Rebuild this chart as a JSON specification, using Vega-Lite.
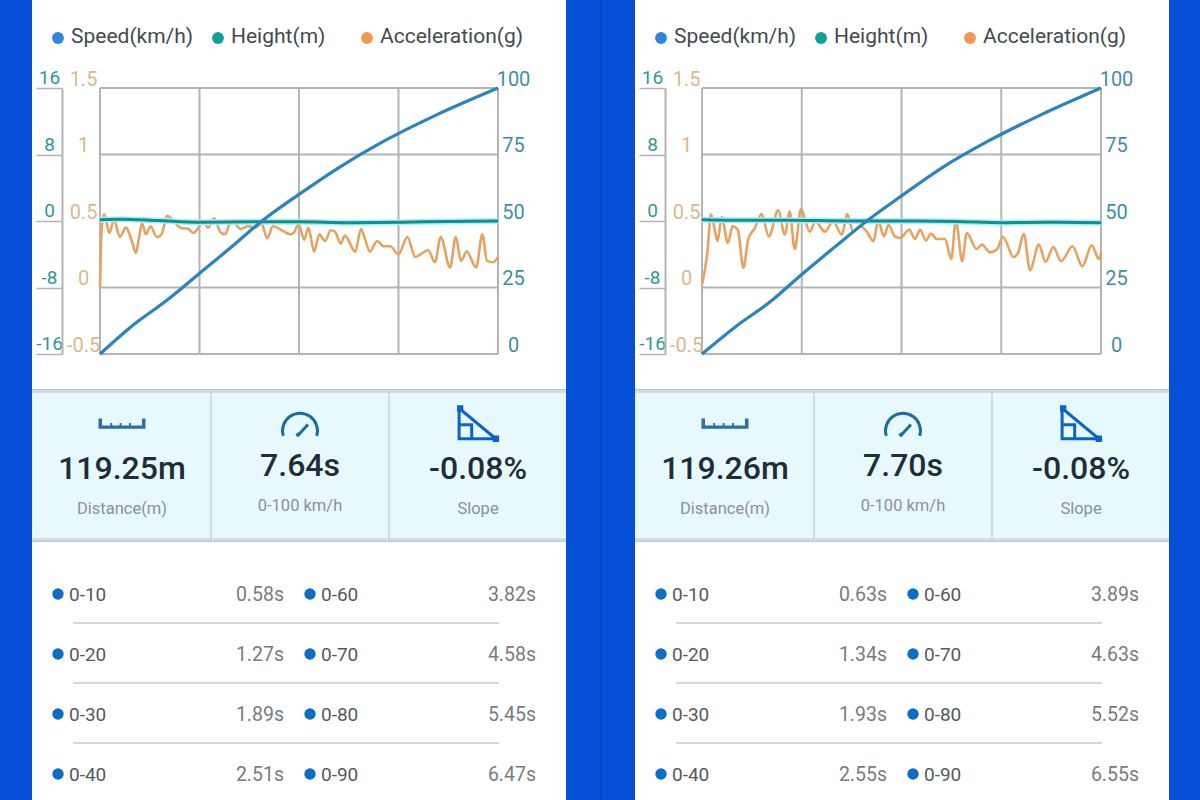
{"$schema":"https://vega.github.io/schema/vega-lite/v6.json","background":"#0650d8","padding":{"left":30,"right":32,"top":-1,"bottom":0},"autosize":{"type":"pad"},"config":{"font":"Roboto","view":{"stroke":null}},"datasets":{"legend":[{"series":"Speed(km/h)"},{"series":"Height(m)"},{"series":"Acceleration(g)"}],"speedTicks":[{"speed":0},{"speed":25},{"speed":50},{"speed":75},{"speed":100}],"timeA":[{"t":0},{"t":1.91},{"t":3.82},{"t":5.73},{"t":7.64}],"timeB":[{"t":0},{"t":1.925},{"t":3.85},{"t":5.775},{"t":7.7}],"speedA":[{"t":0,"v":0},{"t":0.58,"v":10},{"t":1.27,"v":20},{"t":1.89,"v":30},{"t":2.51,"v":40},{"t":3.11,"v":50},{"t":3.82,"v":60},{"t":4.58,"v":70},{"t":5.45,"v":80},{"t":6.47,"v":90},{"t":7.64,"v":100}],"speedB":[{"t":0,"v":0},{"t":0.63,"v":10},{"t":1.34,"v":20},{"t":1.93,"v":30},{"t":2.55,"v":40},{"t":3.18,"v":50},{"t":3.89,"v":60},{"t":4.63,"v":70},{"t":5.52,"v":80},{"t":6.55,"v":90},{"t":7.7,"v":100}],"heightA":[{"t":0,"h":0.15},{"t":0.4,"h":0.2},{"t":1.1,"h":0.05},{"t":1.9,"h":-0.15},{"t":3.0,"h":-0.1},{"t":3.8,"h":-0.1},{"t":4.8,"h":-0.2},{"t":5.8,"h":-0.15},{"t":6.7,"h":-0.05},{"t":7.64,"h":0}],"heightB":[{"t":0,"h":0.15},{"t":0.6,"h":0.1},{"t":1.6,"h":0.1},{"t":2.9,"h":0},{"t":3.9,"h":0},{"t":4.9,"h":-0.05},{"t":5.8,"h":-0.2},{"t":6.7,"h":-0.15},{"t":7.7,"h":-0.2}],"accelA":[{"t":0,"a":0},{"t":0.02,"a":0.34},{"t":0.05,"a":0.51},{"t":0.08,"a":0.55},{"t":0.13,"a":0.48},{"t":0.18,"a":0.41},{"t":0.27,"a":0.51},{"t":0.38,"a":0.38},{"t":0.5,"a":0.45},{"t":0.61,"a":0.35},{"t":0.69,"a":0.26},{"t":0.75,"a":0.38},{"t":0.81,"a":0.48},{"t":0.88,"a":0.4},{"t":0.97,"a":0.46},{"t":1.09,"a":0.38},{"t":1.18,"a":0.4},{"t":1.29,"a":0.54},{"t":1.41,"a":0.5},{"t":1.54,"a":0.45},{"t":1.7,"a":0.44},{"t":1.79,"a":0.41},{"t":1.89,"a":0.45},{"t":1.97,"a":0.5},{"t":2.08,"a":0.45},{"t":2.19,"a":0.52},{"t":2.32,"a":0.41},{"t":2.4,"a":0.4},{"t":2.5,"a":0.48},{"t":2.59,"a":0.48},{"t":2.69,"a":0.44},{"t":2.85,"a":0.46},{"t":2.98,"a":0.45},{"t":3.1,"a":0.48},{"t":3.21,"a":0.37},{"t":3.32,"a":0.46},{"t":3.49,"a":0.43},{"t":3.65,"a":0.4},{"t":3.72,"a":0.41},{"t":3.81,"a":0.48},{"t":3.92,"a":0.36},{"t":4.0,"a":0.45},{"t":4.11,"a":0.27},{"t":4.21,"a":0.4},{"t":4.32,"a":0.35},{"t":4.43,"a":0.43},{"t":4.51,"a":0.42},{"t":4.62,"a":0.33},{"t":4.7,"a":0.39},{"t":4.9,"a":0.27},{"t":5.01,"a":0.44},{"t":5.09,"a":0.36},{"t":5.18,"a":0.27},{"t":5.32,"a":0.35},{"t":5.44,"a":0.31},{"t":5.57,"a":0.31},{"t":5.73,"a":0.25},{"t":5.9,"a":0.38},{"t":6.05,"a":0.23},{"t":6.3,"a":0.28},{"t":6.43,"a":0.19},{"t":6.54,"a":0.38},{"t":6.72,"a":0.15},{"t":6.83,"a":0.38},{"t":6.93,"a":0.2},{"t":7.04,"a":0.27},{"t":7.22,"a":0.15},{"t":7.34,"a":0.4},{"t":7.43,"a":0.2},{"t":7.55,"a":0.19},{"t":7.64,"a":0.23}],"accelB":[{"t":0,"a":0.02},{"t":0.11,"a":0.285},{"t":0.17,"a":0.55},{"t":0.22,"a":0.485},{"t":0.3,"a":0.35},{"t":0.38,"a":0.53},{"t":0.5,"a":0.335},{"t":0.59,"a":0.46},{"t":0.69,"a":0.435},{"t":0.8,"a":0.147},{"t":0.89,"a":0.36},{"t":1.02,"a":0.447},{"t":1.15,"a":0.552},{"t":1.29,"a":0.384},{"t":1.47,"a":0.58},{"t":1.6,"a":0.397},{"t":1.69,"a":0.572},{"t":1.79,"a":0.29},{"t":1.91,"a":0.59},{"t":2.08,"a":0.42},{"t":2.19,"a":0.497},{"t":2.37,"a":0.42},{"t":2.53,"a":0.497},{"t":2.7,"a":0.397},{"t":2.8,"a":0.552},{"t":2.92,"a":0.42},{"t":3.05,"a":0.46},{"t":3.18,"a":0.42},{"t":3.31,"a":0.347},{"t":3.4,"a":0.504},{"t":3.51,"a":0.384},{"t":3.6,"a":0.472},{"t":3.72,"a":0.384},{"t":3.82,"a":0.372},{"t":4.0,"a":0.434},{"t":4.11,"a":0.365},{"t":4.21,"a":0.434},{"t":4.32,"a":0.354},{"t":4.42,"a":0.404},{"t":4.53,"a":0.365},{"t":4.69,"a":0.365},{"t":4.81,"a":0.215},{"t":4.9,"a":0.51},{"t":5.02,"a":0.197},{"t":5.11,"a":0.41},{"t":5.3,"a":0.29},{"t":5.4,"a":0.322},{"t":5.56,"a":0.264},{"t":5.69,"a":0.285},{"t":5.81,"a":0.38},{"t":6.01,"a":0.23},{"t":6.1,"a":0.26},{"t":6.21,"a":0.404},{"t":6.33,"a":0.13},{"t":6.5,"a":0.322},{"t":6.63,"a":0.193},{"t":6.78,"a":0.305},{"t":6.93,"a":0.197},{"t":7.15,"a":0.31},{"t":7.34,"a":0.16},{"t":7.52,"a":0.317},{"t":7.66,"a":0.215},{"t":7.7,"a":0.26}],"statsA":[{"cell":"Distance(m)","value":"119.25m"},{"cell":"0-100 km/h","value":"7.64s"},{"cell":"Slope","value":"-0.08%"}],"statsB":[{"cell":"Distance(m)","value":"119.26m"},{"cell":"0-100 km/h","value":"7.70s"},{"cell":"Slope","value":"-0.08%"}],"tableA":[{"row":"r1","col":"a","range":"0-10","time":"0.58s"},{"row":"r2","col":"a","range":"0-20","time":"1.27s"},{"row":"r3","col":"a","range":"0-30","time":"1.89s"},{"row":"r4","col":"a","range":"0-40","time":"2.51s"},{"row":"r1","col":"b","range":"0-60","time":"3.82s"},{"row":"r2","col":"b","range":"0-70","time":"4.58s"},{"row":"r3","col":"b","range":"0-80","time":"5.45s"},{"row":"r4","col":"b","range":"0-90","time":"6.47s"}],"tableB":[{"row":"r1","col":"a","range":"0-10","time":"0.63s"},{"row":"r2","col":"a","range":"0-20","time":"1.34s"},{"row":"r3","col":"a","range":"0-30","time":"1.93s"},{"row":"r4","col":"a","range":"0-40","time":"2.55s"},{"row":"r1","col":"b","range":"0-60","time":"3.89s"},{"row":"r2","col":"b","range":"0-70","time":"4.63s"},{"row":"r3","col":"b","range":"0-80","time":"5.52s"},{"row":"r4","col":"b","range":"0-90","time":"6.55s"}],"seps":[{"row":"s1"},{"row":"s2"},{"row":"s3"}]},"spacing":31.5,"hconcat":[{"spacing":0,"vconcat":[{"width":534,"height":389,"view":{"fill":"#ffffff"},"resolve":{"scale":{"x":"independent","y":"independent"}},"layer":[{"data":{"name":"speedTicks"},"mark":{"type":"rule","color":"#b4b4b4","strokeWidth":2},"encoding":{"y":{"field":"speed","type":"quantitative","scale":{"domain":[0,100],"range":[354,88]},"axis":null},"x":{"datum":0,"type":"quantitative","scale":{"domain":[0,7.64],"range":[68,466]},"axis":null},"x2":{"datum":7.64}}},{"data":{"name":"timeA"},"mark":{"type":"rule","color":"#b4b4b4","strokeWidth":2},"encoding":{"x":{"field":"t","type":"quantitative","scale":{"domain":[0,7.64],"range":[68,466]},"axis":null},"y":{"datum":0,"type":"quantitative","scale":{"domain":[0,100],"range":[354,88]},"axis":null},"y2":{"datum":100}}},{"data":{"name":"accelA"},"mark":{"type":"line","color":"#e5a35f","strokeWidth":2.6,"interpolate":"monotone"},"encoding":{"x":{"field":"t","type":"quantitative","scale":{"domain":[0,7.64],"range":[68,466]},"axis":null},"y":{"field":"a","type":"quantitative","scale":{"domain":[-0.5,1.5],"range":[354,88]},"axis":{"orient":"left","title":null,"values":[-0.5,0,0.5,1,1.5],"labelExpr":"''+datum.value","offset":-68,"domain":false,"ticks":false,"grid":false,"labelColor":"#d9b98c","labelFontSize":20,"labelPadding":17,"labelAlign":"center","labelBaseline":"middle","labelOffset":-9,"labelFlush":false}}}},{"data":{"name":"heightA"},"mark":{"type":"line","color":"#a8f0f4","strokeWidth":6,"interpolate":"monotone"},"encoding":{"x":{"field":"t","type":"quantitative","scale":{"domain":[0,7.64],"range":[68,466]},"axis":null},"y":{"field":"h","type":"quantitative","scale":{"domain":[-16,16],"range":[354,88]},"axis":null}}},{"data":{"name":"heightA"},"mark":{"type":"line","color":"#0f8f94","strokeWidth":3,"interpolate":"monotone"},"encoding":{"x":{"field":"t","type":"quantitative","scale":{"domain":[0,7.64],"range":[68,466]},"axis":null},"y":{"field":"h","type":"quantitative","scale":{"domain":[-16,16],"range":[354,88]},"axis":{"orient":"left","title":null,"values":[-16,-8,0,8,16],"labelExpr":"''+datum.value","offset":-30,"domain":true,"domainColor":"#b4b4b4","domainWidth":2,"ticks":true,"tickColor":"#b4b4b4","tickWidth":1.5,"tickSize":26,"grid":false,"labelColor":"#2b9a98","labelFontSize":19,"labelPadding":-13,"labelAlign":"center","labelBaseline":"middle","labelOffset":-10.5,"labelFlush":false}}}},{"data":{"name":"speedA"},"mark":{"type":"line","color":"#2a84bd","strokeWidth":3.2,"interpolate":"monotone"},"encoding":{"x":{"field":"t","type":"quantitative","scale":{"domain":[0,7.64],"range":[68,466]},"axis":null},"y":{"field":"v","type":"quantitative","scale":{"domain":[0,100],"range":[354,88]},"axis":{"orient":"right","title":null,"values":[0,25,50,75,100],"offset":-68,"domain":false,"ticks":false,"grid":false,"labelColor":"#3d8fa3","labelFontSize":20,"labelPadding":15,"labelAlign":"center","labelBaseline":"middle","labelOffset":-9,"labelFlush":false}}}},{"data":{"name":"legend"},"mark":{"type":"point","filled":true,"opacity":1,"size":140,"xOffset":{"expr":"datum.series==='Height(m)'?5.5:0"}},"encoding":{"x":{"field":"series","type":"nominal","sort":null,"scale":{"type":"point","padding":0,"domain":["Speed(km/h)","Height(m)","Acceleration(g)"],"range":[26,335]},"axis":null},"y":{"field":"series","type":"nominal","scale":{"type":"point","padding":0,"domain":["Speed(km/h)","Height(m)","Acceleration(g)"],"range":[38,38]},"axis":null},"color":{"field":"series","type":"nominal","legend":null,"scale":{"domain":["Speed(km/h)","Height(m)","Acceleration(g)"],"range":["#2e86d8","#0f9f9b","#f2994f"]}}}},{"data":{"name":"legend"},"mark":{"type":"text","align":"left","baseline":"middle","fontSize":21,"color":"#454a4e","dx":{"expr":"13+(datum.series==='Height(m)'?5.5:0)"}},"encoding":{"x":{"field":"series","type":"nominal","scale":{"type":"point","padding":0,"domain":["Speed(km/h)","Height(m)","Acceleration(g)"],"range":[26,335]},"axis":null},"y":{"field":"series","type":"nominal","scale":{"type":"point","padding":0,"domain":["Speed(km/h)","Height(m)","Acceleration(g)"],"range":[37,37]},"axis":null},"text":{"field":"series"}}}]},{"width":534,"height":151,"view":{"fill":"#e8f9fd"},"data":{"name":"statsA"},"layer":[{"transform":[{"filter":"datum.cell!=='Slope'"}],"mark":{"type":"rule","color":"#d0dde0","strokeWidth":2},"encoding":{"x":{"field":"cell","type":"nominal","bandPosition":1,"scale":{"type":"band","domain":["Distance(m)","0-100 km/h","Slope"],"range":[1,535],"paddingInner":0,"paddingOuter":0},"axis":null}}},{"mark":{"type":"rule","color":"#cfdcdf","strokeWidth":3},"encoding":{"y":{"datum":"top","type":"nominal","scale":{"type":"point","domain":["top","icon","value","caption","bottom"],"range":[1,150],"padding":0},"axis":null}}},{"mark":{"type":"rule","color":"#cfdcdf","strokeWidth":3},"encoding":{"y":{"datum":"bottom","type":"nominal","scale":{"type":"point","domain":["top","icon","value","caption","bottom"],"range":[1,150],"padding":0},"axis":null}}},{"transform":[{"filter":"datum.cell==='Distance(m)'"}],"mark":{"type":"point","filled":true,"opacity":1,"strokeWidth":0,"color":"#2f6ea5","size":2209,"shape":"M-1 -.42 H-.85 V-.12 H-.5 V-.22 H-.42 V-.12 H-.1 V-.22 H-.02 V-.12 H.3 V-.22 H.38 V-.12 H.85 V-.42 H1 V.02 H-1 Z"},"encoding":{"x":{"field":"cell","type":"nominal","scale":{"type":"band","domain":["Distance(m)","0-100 km/h","Slope"],"range":[1,535],"paddingInner":0,"paddingOuter":0},"axis":null},"y":{"datum":"icon","type":"nominal","scale":{"type":"point","domain":["top","icon","value","caption","bottom"],"range":[1,150],"padding":0},"axis":null}}},{"transform":[{"filter":"datum.cell==='0-100 km/h'"}],"mark":{"type":"point","filled":false,"opacity":1,"strokeWidth":3,"color":"#1b6f9c","size":1444,"shape":"M-.88 .4 A.92 .92 0 1 1 .88 .4 M-.15 .42 L.42 -.2 M-.2 .38 L0 .25"},"encoding":{"x":{"field":"cell","type":"nominal","scale":{"type":"band","domain":["Distance(m)","0-100 km/h","Slope"],"range":[1,535],"paddingInner":0,"paddingOuter":0},"axis":null},"y":{"datum":"icon","type":"nominal","scale":{"type":"point","domain":["top","icon","value","caption","bottom"],"range":[1,150],"padding":0},"axis":null}}},{"transform":[{"filter":"datum.cell==='Slope'"}],"mark":{"type":"point","filled":false,"opacity":1,"strokeWidth":3,"color":"#0a63c9","size":1764,"shape":"M-.9 -.95 L-.9 .5 L.85 .5 Z M-.9 -.17 H-.3 V.5"},"encoding":{"x":{"field":"cell","type":"nominal","scale":{"type":"band","domain":["Distance(m)","0-100 km/h","Slope"],"range":[1,535],"paddingInner":0,"paddingOuter":0},"axis":null},"y":{"datum":"icon","type":"nominal","scale":{"type":"point","domain":["top","icon","value","caption","bottom"],"range":[1,150],"padding":0},"axis":null}}},{"transform":[{"filter":"datum.cell==='Slope'"}],"mark":{"type":"point","filled":true,"opacity":1,"strokeWidth":0,"color":"#0a63c9","size":1764,"shape":"M-1 -1.1 H-.7 V-.8 H-1 Z M.7 .35 H1 V.65 H.7 Z"},"encoding":{"x":{"field":"cell","type":"nominal","scale":{"type":"band","domain":["Distance(m)","0-100 km/h","Slope"],"range":[1,535],"paddingInner":0,"paddingOuter":0},"axis":null},"y":{"datum":"icon","type":"nominal","scale":{"type":"point","domain":["top","icon","value","caption","bottom"],"range":[1,150],"padding":0},"axis":null}}},{"mark":{"type":"text","fontSize":32,"fontWeight":500,"color":"#1f2d38","baseline":"middle","dy":{"expr":"datum.cell==='0-100 km/h'?0.5:3.5"}},"encoding":{"x":{"field":"cell","type":"nominal","scale":{"type":"band","domain":["Distance(m)","0-100 km/h","Slope"],"range":[1,535],"paddingInner":0,"paddingOuter":0},"axis":null},"y":{"datum":"value","type":"nominal","scale":{"type":"point","domain":["top","icon","value","caption","bottom"],"range":[1,150],"padding":0},"axis":null},"text":{"field":"value"}}},{"mark":{"type":"text","fontSize":16.5,"color":"#8b9194","baseline":"middle","dy":{"expr":"datum.cell==='0-100 km/h'?3:6"}},"encoding":{"x":{"field":"cell","type":"nominal","scale":{"type":"band","domain":["Distance(m)","0-100 km/h","Slope"],"range":[1,535],"paddingInner":0,"paddingOuter":0},"axis":null},"y":{"datum":"caption","type":"nominal","scale":{"type":"point","domain":["top","icon","value","caption","bottom"],"range":[1,150],"padding":0},"axis":null},"text":{"field":"cell"}}}]},{"width":534,"height":260,"view":{"fill":"#ffffff"},"resolve":{"scale":{"x":"independent"}},"layer":[{"data":{"name":"seps"},"mark":{"type":"rule","color":"#c9c9c9","strokeWidth":1.5},"encoding":{"y":{"field":"row","type":"nominal","scale":{"type":"point","padding":0,"domain":["r1","s1","r2","s2","r3","s3","r4"],"range":[51,231]},"axis":null},"x":{"datum":0,"type":"quantitative","scale":{"domain":[0,1],"range":[41,467]},"axis":null},"x2":{"datum":1}}},{"data":{"name":"tableA"},"mark":{"type":"point","filled":true,"opacity":1,"size":130,"color":"#0a6ec6","yOffset":1},"encoding":{"x":{"field":"col","type":"nominal","scale":{"type":"point","padding":0,"domain":["a","b"],"range":[26,278]},"axis":null},"y":{"field":"row","type":"nominal","scale":{"type":"point","padding":0,"domain":["r1","s1","r2","s2","r3","s3","r4"],"range":[51,231]},"axis":null}}},{"data":{"name":"tableA"},"mark":{"type":"text","align":"left","baseline":"middle","fontSize":19,"color":"#555a5e","dx":11,"dy":1.5},"encoding":{"x":{"field":"col","type":"nominal","scale":{"type":"point","padding":0,"domain":["a","b"],"range":[26,278]},"axis":null},"y":{"field":"row","type":"nominal","scale":{"type":"point","padding":0,"domain":["r1","s1","r2","s2","r3","s3","r4"],"range":[51,231]},"axis":null},"text":{"field":"range"}}},{"data":{"name":"tableA"},"mark":{"type":"text","align":"right","baseline":"middle","fontSize":19.5,"color":"#777c80","dx":226,"dy":1.5},"encoding":{"x":{"field":"col","type":"nominal","scale":{"type":"point","padding":0,"domain":["a","b"],"range":[26,278]},"axis":null},"y":{"field":"row","type":"nominal","scale":{"type":"point","padding":0,"domain":["r1","s1","r2","s2","r3","s3","r4"],"range":[51,231]},"axis":null},"text":{"field":"time"}}}]}]},{"width":1,"height":800,"view":{"fill":"#0844bb"},"data":{"name":"seps"},"mark":{"type":"rule","color":"#0844bb","strokeWidth":1},"encoding":{"x":{"datum":0,"type":"quantitative","scale":{"domain":[0,1]},"axis":null}}},{"spacing":0,"vconcat":[{"width":534,"height":389,"view":{"fill":"#ffffff"},"resolve":{"scale":{"x":"independent","y":"independent"}},"layer":[{"data":{"name":"speedTicks"},"mark":{"type":"rule","color":"#b4b4b4","strokeWidth":2},"encoding":{"y":{"field":"speed","type":"quantitative","scale":{"domain":[0,100],"range":[354,88]},"axis":null},"x":{"datum":0,"type":"quantitative","scale":{"domain":[0,7.7],"range":[67,466]},"axis":null},"x2":{"datum":7.7}}},{"data":{"name":"timeB"},"mark":{"type":"rule","color":"#b4b4b4","strokeWidth":2},"encoding":{"x":{"field":"t","type":"quantitative","scale":{"domain":[0,7.7],"range":[67,466]},"axis":null},"y":{"datum":0,"type":"quantitative","scale":{"domain":[0,100],"range":[354,88]},"axis":null},"y2":{"datum":100}}},{"data":{"name":"accelB"},"mark":{"type":"line","color":"#e5a35f","strokeWidth":2.6,"interpolate":"monotone"},"encoding":{"x":{"field":"t","type":"quantitative","scale":{"domain":[0,7.7],"range":[67,466]},"axis":null},"y":{"field":"a","type":"quantitative","scale":{"domain":[-0.5,1.5],"range":[354,88]},"axis":{"orient":"left","title":null,"values":[-0.5,0,0.5,1,1.5],"labelExpr":"''+datum.value","offset":-68,"domain":false,"ticks":false,"grid":false,"labelColor":"#d9b98c","labelFontSize":20,"labelPadding":17,"labelAlign":"center","labelBaseline":"middle","labelOffset":-9,"labelFlush":false}}}},{"data":{"name":"heightB"},"mark":{"type":"line","color":"#a8f0f4","strokeWidth":6,"interpolate":"monotone"},"encoding":{"x":{"field":"t","type":"quantitative","scale":{"domain":[0,7.7],"range":[67,466]},"axis":null},"y":{"field":"h","type":"quantitative","scale":{"domain":[-16,16],"range":[354,88]},"axis":null}}},{"data":{"name":"heightB"},"mark":{"type":"line","color":"#0f8f94","strokeWidth":3,"interpolate":"monotone"},"encoding":{"x":{"field":"t","type":"quantitative","scale":{"domain":[0,7.7],"range":[67,466]},"axis":null},"y":{"field":"h","type":"quantitative","scale":{"domain":[-16,16],"range":[354,88]},"axis":{"orient":"left","title":null,"values":[-16,-8,0,8,16],"labelExpr":"''+datum.value","offset":-30,"domain":true,"domainColor":"#b4b4b4","domainWidth":2,"ticks":true,"tickColor":"#b4b4b4","tickWidth":1.5,"tickSize":26,"grid":false,"labelColor":"#2b9a98","labelFontSize":19,"labelPadding":-13,"labelAlign":"center","labelBaseline":"middle","labelOffset":-10.5,"labelFlush":false}}}},{"data":{"name":"speedB"},"mark":{"type":"line","color":"#2a84bd","strokeWidth":3.2,"interpolate":"monotone"},"encoding":{"x":{"field":"t","type":"quantitative","scale":{"domain":[0,7.7],"range":[67,466]},"axis":null},"y":{"field":"v","type":"quantitative","scale":{"domain":[0,100],"range":[354,88]},"axis":{"orient":"right","title":null,"values":[0,25,50,75,100],"offset":-68,"domain":false,"ticks":false,"grid":false,"labelColor":"#3d8fa3","labelFontSize":20,"labelPadding":15,"labelAlign":"center","labelBaseline":"middle","labelOffset":-9,"labelFlush":false}}}},{"data":{"name":"legend"},"mark":{"type":"point","filled":true,"opacity":1,"size":140,"xOffset":{"expr":"datum.series==='Height(m)'?5.5:0"}},"encoding":{"x":{"field":"series","type":"nominal","sort":null,"scale":{"type":"point","padding":0,"domain":["Speed(km/h)","Height(m)","Acceleration(g)"],"range":[26,335]},"axis":null},"y":{"field":"series","type":"nominal","scale":{"type":"point","padding":0,"domain":["Speed(km/h)","Height(m)","Acceleration(g)"],"range":[38,38]},"axis":null},"color":{"field":"series","type":"nominal","legend":null,"scale":{"domain":["Speed(km/h)","Height(m)","Acceleration(g)"],"range":["#2e86d8","#0f9f9b","#f2994f"]}}}},{"data":{"name":"legend"},"mark":{"type":"text","align":"left","baseline":"middle","fontSize":21,"color":"#454a4e","dx":{"expr":"13+(datum.series==='Height(m)'?5.5:0)"}},"encoding":{"x":{"field":"series","type":"nominal","scale":{"type":"point","padding":0,"domain":["Speed(km/h)","Height(m)","Acceleration(g)"],"range":[26,335]},"axis":null},"y":{"field":"series","type":"nominal","scale":{"type":"point","padding":0,"domain":["Speed(km/h)","Height(m)","Acceleration(g)"],"range":[37,37]},"axis":null},"text":{"field":"series"}}}]},{"width":534,"height":151,"view":{"fill":"#e8f9fd"},"data":{"name":"statsB"},"layer":[{"transform":[{"filter":"datum.cell!=='Slope'"}],"mark":{"type":"rule","color":"#d0dde0","strokeWidth":2},"encoding":{"x":{"field":"cell","type":"nominal","bandPosition":1,"scale":{"type":"band","domain":["Distance(m)","0-100 km/h","Slope"],"range":[1,535],"paddingInner":0,"paddingOuter":0},"axis":null}}},{"mark":{"type":"rule","color":"#cfdcdf","strokeWidth":3},"encoding":{"y":{"datum":"top","type":"nominal","scale":{"type":"point","domain":["top","icon","value","caption","bottom"],"range":[1,150],"padding":0},"axis":null}}},{"mark":{"type":"rule","color":"#cfdcdf","strokeWidth":3},"encoding":{"y":{"datum":"bottom","type":"nominal","scale":{"type":"point","domain":["top","icon","value","caption","bottom"],"range":[1,150],"padding":0},"axis":null}}},{"transform":[{"filter":"datum.cell==='Distance(m)'"}],"mark":{"type":"point","filled":true,"opacity":1,"strokeWidth":0,"color":"#2f6ea5","size":2209,"shape":"M-1 -.42 H-.85 V-.12 H-.5 V-.22 H-.42 V-.12 H-.1 V-.22 H-.02 V-.12 H.3 V-.22 H.38 V-.12 H.85 V-.42 H1 V.02 H-1 Z"},"encoding":{"x":{"field":"cell","type":"nominal","scale":{"type":"band","domain":["Distance(m)","0-100 km/h","Slope"],"range":[1,535],"paddingInner":0,"paddingOuter":0},"axis":null},"y":{"datum":"icon","type":"nominal","scale":{"type":"point","domain":["top","icon","value","caption","bottom"],"range":[1,150],"padding":0},"axis":null}}},{"transform":[{"filter":"datum.cell==='0-100 km/h'"}],"mark":{"type":"point","filled":false,"opacity":1,"strokeWidth":3,"color":"#1b6f9c","size":1444,"shape":"M-.88 .4 A.92 .92 0 1 1 .88 .4 M-.15 .42 L.42 -.2 M-.2 .38 L0 .25"},"encoding":{"x":{"field":"cell","type":"nominal","scale":{"type":"band","domain":["Distance(m)","0-100 km/h","Slope"],"range":[1,535],"paddingInner":0,"paddingOuter":0},"axis":null},"y":{"datum":"icon","type":"nominal","scale":{"type":"point","domain":["top","icon","value","caption","bottom"],"range":[1,150],"padding":0},"axis":null}}},{"transform":[{"filter":"datum.cell==='Slope'"}],"mark":{"type":"point","filled":false,"opacity":1,"strokeWidth":3,"color":"#0a63c9","size":1764,"shape":"M-.9 -.95 L-.9 .5 L.85 .5 Z M-.9 -.17 H-.3 V.5"},"encoding":{"x":{"field":"cell","type":"nominal","scale":{"type":"band","domain":["Distance(m)","0-100 km/h","Slope"],"range":[1,535],"paddingInner":0,"paddingOuter":0},"axis":null},"y":{"datum":"icon","type":"nominal","scale":{"type":"point","domain":["top","icon","value","caption","bottom"],"range":[1,150],"padding":0},"axis":null}}},{"transform":[{"filter":"datum.cell==='Slope'"}],"mark":{"type":"point","filled":true,"opacity":1,"strokeWidth":0,"color":"#0a63c9","size":1764,"shape":"M-1 -1.1 H-.7 V-.8 H-1 Z M.7 .35 H1 V.65 H.7 Z"},"encoding":{"x":{"field":"cell","type":"nominal","scale":{"type":"band","domain":["Distance(m)","0-100 km/h","Slope"],"range":[1,535],"paddingInner":0,"paddingOuter":0},"axis":null},"y":{"datum":"icon","type":"nominal","scale":{"type":"point","domain":["top","icon","value","caption","bottom"],"range":[1,150],"padding":0},"axis":null}}},{"mark":{"type":"text","fontSize":32,"fontWeight":500,"color":"#1f2d38","baseline":"middle","dy":{"expr":"datum.cell==='0-100 km/h'?0.5:3.5"}},"encoding":{"x":{"field":"cell","type":"nominal","scale":{"type":"band","domain":["Distance(m)","0-100 km/h","Slope"],"range":[1,535],"paddingInner":0,"paddingOuter":0},"axis":null},"y":{"datum":"value","type":"nominal","scale":{"type":"point","domain":["top","icon","value","caption","bottom"],"range":[1,150],"padding":0},"axis":null},"text":{"field":"value"}}},{"mark":{"type":"text","fontSize":16.5,"color":"#8b9194","baseline":"middle","dy":{"expr":"datum.cell==='0-100 km/h'?3:6"}},"encoding":{"x":{"field":"cell","type":"nominal","scale":{"type":"band","domain":["Distance(m)","0-100 km/h","Slope"],"range":[1,535],"paddingInner":0,"paddingOuter":0},"axis":null},"y":{"datum":"caption","type":"nominal","scale":{"type":"point","domain":["top","icon","value","caption","bottom"],"range":[1,150],"padding":0},"axis":null},"text":{"field":"cell"}}}]},{"width":534,"height":260,"view":{"fill":"#ffffff"},"resolve":{"scale":{"x":"independent"}},"layer":[{"data":{"name":"seps"},"mark":{"type":"rule","color":"#c9c9c9","strokeWidth":1.5},"encoding":{"y":{"field":"row","type":"nominal","scale":{"type":"point","padding":0,"domain":["r1","s1","r2","s2","r3","s3","r4"],"range":[51,231]},"axis":null},"x":{"datum":0,"type":"quantitative","scale":{"domain":[0,1],"range":[41,467]},"axis":null},"x2":{"datum":1}}},{"data":{"name":"tableB"},"mark":{"type":"point","filled":true,"opacity":1,"size":130,"color":"#0a6ec6","yOffset":1},"encoding":{"x":{"field":"col","type":"nominal","scale":{"type":"point","padding":0,"domain":["a","b"],"range":[26,278]},"axis":null},"y":{"field":"row","type":"nominal","scale":{"type":"point","padding":0,"domain":["r1","s1","r2","s2","r3","s3","r4"],"range":[51,231]},"axis":null}}},{"data":{"name":"tableB"},"mark":{"type":"text","align":"left","baseline":"middle","fontSize":19,"color":"#555a5e","dx":11,"dy":1.5},"encoding":{"x":{"field":"col","type":"nominal","scale":{"type":"point","padding":0,"domain":["a","b"],"range":[26,278]},"axis":null},"y":{"field":"row","type":"nominal","scale":{"type":"point","padding":0,"domain":["r1","s1","r2","s2","r3","s3","r4"],"range":[51,231]},"axis":null},"text":{"field":"range"}}},{"data":{"name":"tableB"},"mark":{"type":"text","align":"right","baseline":"middle","fontSize":19.5,"color":"#777c80","dx":226,"dy":1.5},"encoding":{"x":{"field":"col","type":"nominal","scale":{"type":"point","padding":0,"domain":["a","b"],"range":[26,278]},"axis":null},"y":{"field":"row","type":"nominal","scale":{"type":"point","padding":0,"domain":["r1","s1","r2","s2","r3","s3","r4"],"range":[51,231]},"axis":null},"text":{"field":"time"}}}]}]}]}
